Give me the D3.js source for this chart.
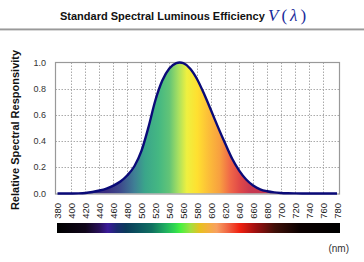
<!DOCTYPE html>
<html><head><meta charset="utf-8">
<script src="https://cdn.jsdelivr.net/npm/d3@7"></script>
<style>body{margin:0;background:#fff}svg{display:block}</style>
</head><body>
<script>
const wavelengths = [380,390,400,410,420,430,440,450,460,470,480,490,500,510,520,530,540,550,555,560,570,580,590,600,610,620,630,640,650,660,670,680,690,700,710,720,730,740,750,760,770,780];
const values = [0.00004,0.00012,0.0004,0.0012,0.004,0.0116,0.023,0.038,0.06,0.091,0.139,0.208,0.323,0.503,0.71,0.862,0.954,0.995,1.0,0.995,0.952,0.87,0.757,0.631,0.503,0.381,0.265,0.175,0.107,0.061,0.032,0.017,0.0082,0.0041,0.0021,0.00105,0.0005,0.00025,0.00012,0.00006,0.00003,0.000015];
const xTicks = [380,400,420,440,460,480,500,520,540,560,580,600,620,640,660,680,700,720,740,760,780];
const yTicks = [0,0.2,0.4,0.6,0.8,1.0];
const fillStops = [[380,"#352a78"],[450,"#3a2e80"],[470,"#3e4a8c"],[490,"#3f7f95"],[505,"#3aa58a"],[525,"#45b882"],[540,"#62c477"],[553,"#a8e060"],[565,"#eef040"],[580,"#ffe030"],[595,"#fcc038"],[612,"#f8a040"],[627,"#f06848"],[641,"#e04848"],[656,"#c83850"],[780,"#b03050"]];
const barStops = [[380,"#000000"],[420,"#10061a"],[440,"#28105a"],[452,"#3a1a9a"],[465,"#1a2a70"],[478,"#0a3a5a"],[500,"#0c5a60"],[515,"#107060"],[535,"#20b060"],[548,"#30d850"],[556,"#48f040"],[570,"#a0e040"],[584,"#e8c020"],[596,"#f4b040"],[608,"#f8a060"],[625,"#f06040"],[641,"#f02010"],[663,"#a01010"],[691,"#401008"],[727,"#0a0000"],[780,"#000000"]];

const W = 364, H = 262;
const svg = d3.select("body").append("svg").attr("width", W).attr("height", H)
  .style("font-family", "Arial, 'Liberation Sans', sans-serif");

// Title
svg.append("text").attr("x", 60).attr("y", 20).attr("fill", "#111")
  .attr("font-size", 11).attr("font-weight", "bold").text("Standard Spectral Luminous Efficiency");
const vt = svg.append("text").attr("x", 268).attr("y", 21).attr("fill", "#1a2a9a")
  .attr("font-family", "'Liberation Serif','DejaVu Serif',serif").attr("font-size", 17);
vt.append("tspan").attr("font-style", "italic").text("V");
vt.append("tspan").attr("dx", 3).text("(");
vt.append("tspan").attr("dx", 3).attr("font-style", "italic").text("λ");
vt.append("tspan").attr("dx", 3).text(")");
// separator
svg.append("rect").attr("x", 0).attr("y", 28).attr("width", W).attr("height", 1).attr("fill", "#c8c8c8");
svg.append("rect").attr("x", 0).attr("y", 29).attr("width", W).attr("height", 1).attr("fill", "#999");
svg.append("rect").attr("x", 0).attr("y", 30).attr("width", W).attr("height", 1).attr("fill", "#d8d8d8");

const x = d3.scaleLinear().domain([380, 780]).range([57.5, 337]);
const y = d3.scaleLinear().domain([0, 1]).range([193.5, 62.5]);
const L = 55.5, R = 339.5, T = 62.5, B = 194;

const defs = svg.append("defs");
const fg = defs.append("linearGradient").attr("id", "fillg").attr("gradientUnits", "userSpaceOnUse")
  .attr("x1", x(380)).attr("x2", x(780)).attr("y1", 0).attr("y2", 0);
fillStops.forEach(s => fg.append("stop").attr("offset", (s[0]-380)/400).attr("stop-color", s[1]));
const bg = defs.append("linearGradient").attr("id", "barg").attr("gradientUnits", "userSpaceOnUse")
  .attr("x1", x(380)).attr("x2", x(780)).attr("y1", 0).attr("y2", 0);
barStops.forEach(s => bg.append("stop").attr("offset", (s[0]-380)/400).attr("stop-color", s[1]));

// grid
const grid = svg.append("g").attr("stroke", "#aaa").attr("stroke-width", 1).attr("stroke-dasharray", "1.5,1.5");
xTicks.slice(1, -1).forEach(t => grid.append("line").attr("x1", Math.round(x(t))+0.5).attr("x2", Math.round(x(t))+0.5).attr("y1", T).attr("y2", B));
yTicks.slice(1, -1).forEach(t => grid.append("line").attr("x1", L).attr("x2", R).attr("y1", Math.round(y(t))+0.5).attr("y2", Math.round(y(t))+0.5));

const data = wavelengths.map((w, i) => [w, values[i]]);
const area = d3.area().x(d => x(d[0])).y0(y(0)).y1(d => y(d[1])).curve(d3.curveMonotoneX);
const line = d3.line().x(d => x(d[0])).y(d => y(d[1])).curve(d3.curveMonotoneX);
svg.append("path").datum(data).attr("d", area).attr("fill", "url(#fillg)");

// frame
svg.append("rect").attr("x", L).attr("y", T).attr("width", R - L).attr("height", B - T)
  .attr("fill", "none").attr("stroke", "#999").attr("stroke-width", 1.2);

svg.append("path").datum(data).attr("d", line).attr("fill", "none").attr("stroke", "#0a0a78").attr("stroke-width", 2.4);

// y tick labels
svg.append("g").selectAll("text").data(yTicks).join("text")
  .attr("x", 46).attr("y", d => y(d) + 3).attr("text-anchor", "end")
  .attr("font-size", 9).attr("fill", "#333").text(d => d.toFixed(1));

// x tick labels
svg.append("g").selectAll("text").data(xTicks).join("text")
  .attr("transform", d => `translate(${x(d) + 3.5},203) rotate(-90)`)
  .attr("text-anchor", "end").attr("font-size", 9.5).attr("fill", "#222").text(d => d);

// y title
svg.append("text").attr("transform", "translate(19,130) rotate(-90)").attr("text-anchor", "middle")
  .attr("font-size", 11).attr("font-weight", "bold").attr("fill", "#111").text("Relative Spectral Responsivity");

// color bar
svg.append("rect").attr("x", 57).attr("y", 223).attr("width", 283).attr("height", 10).attr("fill", "url(#barg)");

svg.append("text").attr("x", 349).attr("y", 252).attr("text-anchor", "end").attr("font-size", 10).attr("fill", "#333").text("(nm)");
</script>
</body></html>
